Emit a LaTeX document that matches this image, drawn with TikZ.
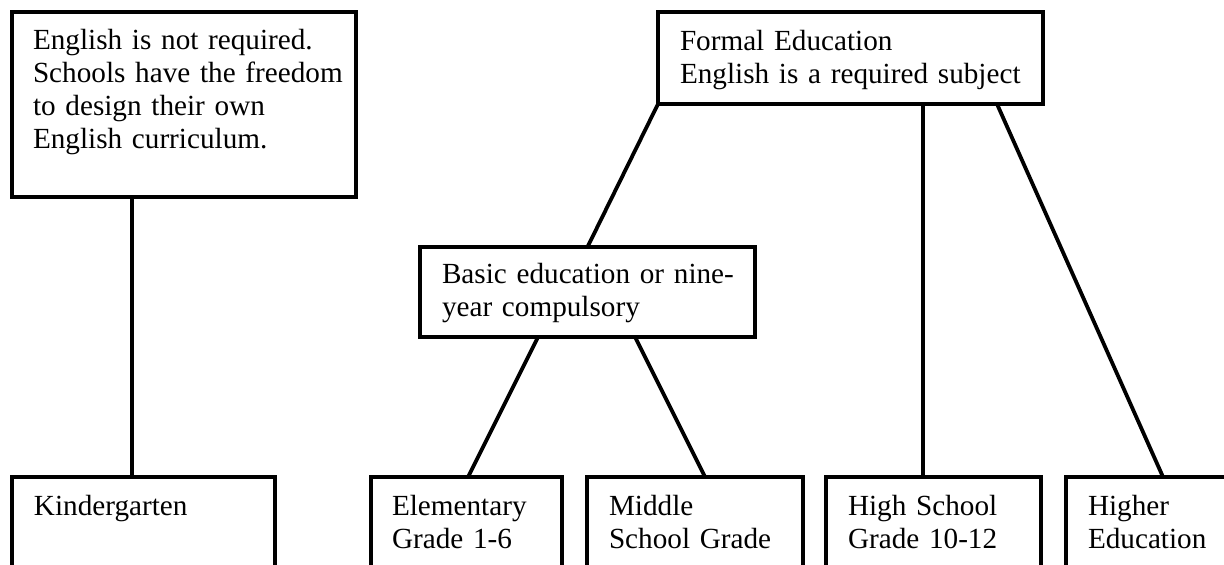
\documentclass[tikz,border=0pt]{standalone}
\usepackage{fontspec}
\setmainfont{Liberation Serif}
\usetikzlibrary{calc}
\begin{document}
\begin{tikzpicture}[x=1pt,y=1pt,
  box/.style={draw=black, line width=3.8pt, rectangle, inner sep=0pt, outer sep=0pt, fill=none},
  txt/.style={anchor=base west, inner sep=0pt, outer sep=0pt, align=left, text width=420pt,
    font=\fontsize{29.2}{33}\selectfont},
  conn/.style={draw=black, line width=3.8pt}]
\useasboundingbox (0,0) rectangle (1224,-565);
\clip (0,0) rectangle (1224,-565);
\fill[white] (0,0) rectangle (1224,-565);
% boxes (line centres)
\node[box, minimum width=344pt, minimum height=185pt] (tl) at (184,-104.5) {};
\node[box, minimum width=385pt, minimum height=92pt] (fe) at (850.5,-58) {};
\node[box, minimum width=335pt, minimum height=90pt] (be) at (587.5,-292) {};
\node[box, minimum width=263pt, minimum height=140pt] (kg) at (143.5,-547) {};
\node[box, minimum width=191pt, minimum height=140pt] (el) at (466.5,-547) {};
\node[box, minimum width=216pt, minimum height=140pt] (ms) at (695,-547) {};
\node[box, minimum width=215pt, minimum height=140pt] (hs) at (933.5,-547) {};
\node[box, minimum width=240pt, minimum height=140pt] (he) at (1186,-547) {};
% texts
\node[txt] (tlt) at ($(tl.north west)+(21,-37)$) {English is not required.\\Schools have the freedom\\to design their own\\English curriculum.};
\node[txt] (fet) at ($(fe.north west)+(22,-38)$) {Formal Education\\English is a required subject};
\node[txt] (bet) at ($(be.north west)+(22,-36)$) {Basic education or nine-\\year compulsory};
\node[txt] (kgt) at ($(kg.north west)+(22,-38)$) {Kindergarten};
\node[txt] (elt) at ($(el.north west)+(21,-38)$) {Elementary\\Grade 1-6};
\node[txt] (mst) at ($(ms.north west)+(22,-38)$) {Middle\\School Grade};
\node[txt] (hst) at ($(hs.north west)+(22,-38)$) {High School\\Grade 10-12};
\node[txt] (het) at ($(he.north west)+(22,-38)$) {Higher\\Education};
% connectors
\draw[conn] ($(tl.south west)+(120,0)$) -- ($(kg.north west)+(120,0)$);
\draw[conn] (fe.south west) -- (be.north);
\draw[conn] ($(fe.south west)+(265,0)$) -- ($(hs.north west)+(97,0)$);
\draw[conn] ($(fe.south west)+(339,0)$) -- ($(he.north west)+(97,0)$);
\draw[conn] ($(be.south west)+(118,0)$) -- ($(el.north west)+(97,0)$);
\draw[conn] ($(be.south west)+(215,0)$) -- ($(ms.north west)+(118,0)$);
\end{tikzpicture}
\end{document}
